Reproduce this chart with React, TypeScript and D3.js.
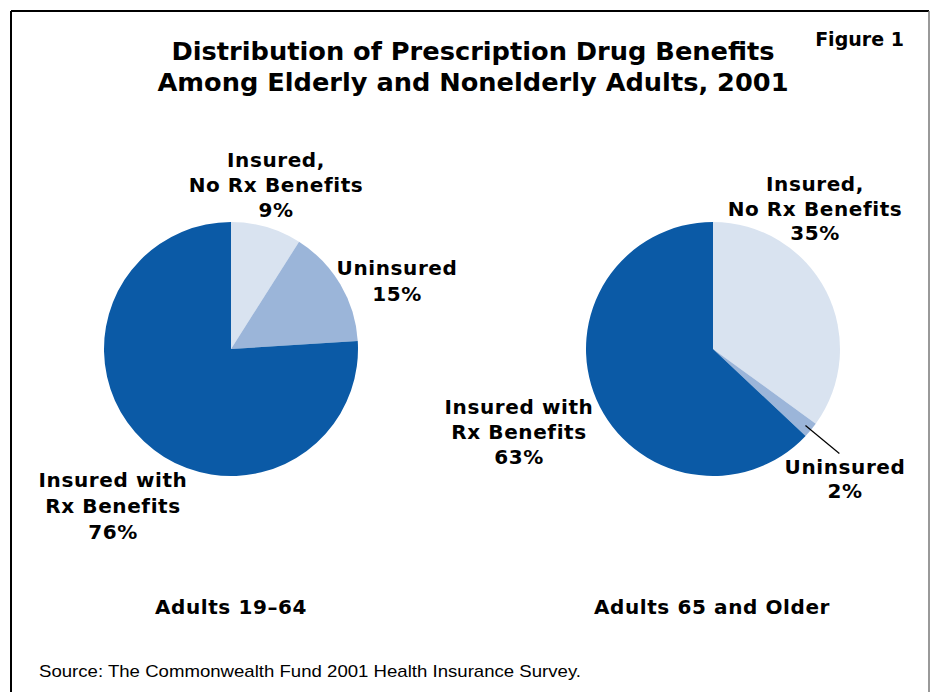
import React from "react";
import * as d3 from "d3";

const categories = ["Insured, No Rx Benefits", "Uninsured", "Insured with Rx Benefits"];
const adults1964 = [9, 15, 76];
const adults65 = [35, 2, 63];
const groupLabels = ["Adults 19–64", "Adults 65 and Older"];
const colors = ["#D9E3F0", "#9BB5D9", "#0B5AA6"];

const W = 930;
const H = 692;
const R = 127;
const FONT = "'DejaVu Sans', Verdana, sans-serif";

function Pie({ cx, cy, values }: { cx: number; cy: number; values: number[] }) {
  const pie = d3.pie<number>().sort(null).value((d) => d);
  const arc = d3.arc<d3.PieArcDatum<number>>().innerRadius(0).outerRadius(R);
  const arcs = pie(values);
  return (
    <g transform={`translate(${cx},${cy})`}>
      {arcs.map((a, i) => (
        <path key={i} d={arc(a) || ""} fill={colors[i]} />
      ))}
    </g>
  );
}

function Label({ x, y, lines, lh = 25 }: { x: number; y: number; lines: string[]; lh?: number }) {
  return (
    <text x={x} y={y} textAnchor="middle" fontFamily={FONT} fontWeight="bold" fontSize={20}
      letterSpacing={0.6} fill="#000">
      {lines.map((l, i) => (
        <tspan key={i} x={x} y={y + i * lh}>
          {l}
        </tspan>
      ))}
    </text>
  );
}

export default function App() {
  const c1 = { x: 231, y: 349 };
  const c2 = { x: 713, y: 349 };
  const pie2 = d3.pie<number>().sort(null).value((d) => d)(adults65);
  const small = pie2[1];
  const mid = (small.startAngle + small.endAngle) / 2;
  const p0 = [c2.x + 120 * Math.sin(mid), c2.y - 120 * Math.cos(mid)];
  const p1 = [c2.x + 164 * Math.sin(mid), c2.y - 164 * Math.cos(mid)];

  return (
    <svg width={W} height={H} style={{ position: "absolute", left: 0, top: 0, background: "#fff" }}>
      <rect x={0} y={0} width={W} height={H} fill="#fff" />
      {/* frame */}
      <line x1={11} y1={11} x2={929} y2={11} stroke="#000" strokeWidth={2} />
      <line x1={11} y1={11} x2={11} y2={H} stroke="#000" strokeWidth={2} />
      <line x1={929} y1={11} x2={929} y2={H} stroke="#777" strokeWidth={1.5} />

      <text x={473} y={60} textAnchor="middle" fontFamily={FONT} fontWeight="bold" fontSize={24}
        textLength={603} lengthAdjust="spacingAndGlyphs">
        Distribution of Prescription Drug Benefits
      </text>
      <text x={473} y={91} textAnchor="middle" fontFamily={FONT} fontWeight="bold" fontSize={24}
        textLength={631} lengthAdjust="spacingAndGlyphs">
        Among Elderly and Nonelderly Adults, 2001
      </text>
      <text x={859.5} y={46} textAnchor="middle" fontFamily={FONT} fontWeight="bold" fontSize={19}>
        Figure 1
      </text>

      <Pie cx={c1.x} cy={c1.y} values={adults1964} />
      <Pie cx={c2.x} cy={c2.y} values={adults65} />

      <Label x={276} y={167} lines={["Insured,", "No Rx Benefits", `${adults1964[0]}%`]} />
      <Label x={397} y={275} lines={["Uninsured", `${adults1964[1]}%`]} lh={26} />
      <Label x={113} y={487} lines={["Insured with", "Rx Benefits", `${adults1964[2]}%`]} lh={26} />

      <Label x={815} y={191} lines={["Insured,", "No Rx Benefits", `${adults65[0]}%`]} lh={24.5} />
      <Label x={519} y={414} lines={["Insured with", "Rx Benefits", `${adults65[2]}%`]} lh={25} />
      <Label x={845} y={474} lines={["Uninsured", `${adults65[1]}%`]} lh={24} />
      <line x1={p0[0]} y1={p0[1]} x2={p1[0]} y2={p1[1]} stroke="#000" strokeWidth={1.2} />

      <Label x={231} y={614} lines={[groupLabels[0]]} />
      <Label x={712} y={614} lines={[groupLabels[1]]} />

      <text x={39} y={677} fontFamily="'Liberation Sans', Arial, sans-serif" fontSize={17} fill="#000"
        textLength={542} lengthAdjust="spacingAndGlyphs">
        Source: The Commonwealth Fund 2001 Health Insurance Survey.
      </text>
    </svg>
  );
}
